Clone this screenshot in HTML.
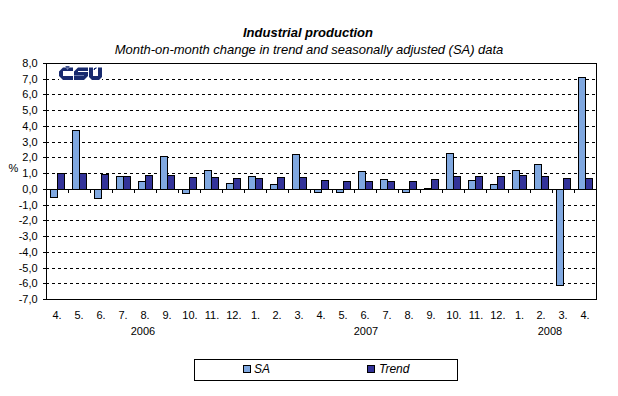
<!DOCTYPE html>
<html><head><meta charset="utf-8"><style>
html,body{margin:0;padding:0;background:#fff;width:618px;height:396px;overflow:hidden}
svg{display:block}
text{font-family:"Liberation Sans",sans-serif;fill:#000}
</style></head><body>
<svg width="618" height="396" viewBox="0 0 618 396">
<rect x="0" y="0" width="618" height="396" fill="#fff"/>

<text x="308" y="37" font-size="13" font-weight="bold" font-style="italic" text-anchor="middle">Industrial production</text>
<text x="309" y="53.5" font-size="13" font-style="italic" text-anchor="middle" letter-spacing="-0.025">Month-on-month change in trend and seasonally adjusted (SA) data</text>
<path d="M47 79.5H596 M47 94.5H596 M47 110.5H596 M47 126.5H596 M47 142.5H596 M47 157.5H596 M47 173.5H596 M47 205.5H596 M47 220.5H596 M47 236.5H596 M47 252.5H596 M47 268.5H596 M47 283.5H596" stroke="#000" stroke-width="1" stroke-dasharray="3 3" stroke-dashoffset="1" fill="none" shape-rendering="crispEdges"/>
<rect x="50.5" y="189.5" width="7" height="8" fill="#80A8E0" stroke="#000" stroke-width="1" shape-rendering="crispEdges"/>
<rect x="57.5" y="173.5" width="7" height="16" fill="#333399" stroke="#000" stroke-width="1" shape-rendering="crispEdges"/>
<rect x="72.5" y="130.5" width="7" height="59" fill="#80A8E0" stroke="#000" stroke-width="1" shape-rendering="crispEdges"/>
<rect x="79.5" y="173.5" width="7" height="16" fill="#333399" stroke="#000" stroke-width="1" shape-rendering="crispEdges"/>
<rect x="94.5" y="189.5" width="7" height="9" fill="#80A8E0" stroke="#000" stroke-width="1" shape-rendering="crispEdges"/>
<rect x="101.5" y="174.5" width="7" height="15" fill="#333399" stroke="#000" stroke-width="1" shape-rendering="crispEdges"/>
<rect x="116.5" y="176.5" width="7" height="13" fill="#80A8E0" stroke="#000" stroke-width="1" shape-rendering="crispEdges"/>
<rect x="123.5" y="176.5" width="7" height="13" fill="#333399" stroke="#000" stroke-width="1" shape-rendering="crispEdges"/>
<rect x="138.5" y="181.5" width="7" height="8" fill="#80A8E0" stroke="#000" stroke-width="1" shape-rendering="crispEdges"/>
<rect x="145.5" y="175.5" width="7" height="14" fill="#333399" stroke="#000" stroke-width="1" shape-rendering="crispEdges"/>
<rect x="160.5" y="156.5" width="7" height="33" fill="#80A8E0" stroke="#000" stroke-width="1" shape-rendering="crispEdges"/>
<rect x="167.5" y="175.5" width="7" height="14" fill="#333399" stroke="#000" stroke-width="1" shape-rendering="crispEdges"/>
<rect x="182.5" y="189.5" width="7" height="4" fill="#80A8E0" stroke="#000" stroke-width="1" shape-rendering="crispEdges"/>
<rect x="189.5" y="177.5" width="7" height="12" fill="#333399" stroke="#000" stroke-width="1" shape-rendering="crispEdges"/>
<rect x="204.5" y="170.5" width="7" height="19" fill="#80A8E0" stroke="#000" stroke-width="1" shape-rendering="crispEdges"/>
<rect x="211.5" y="177.5" width="7" height="12" fill="#333399" stroke="#000" stroke-width="1" shape-rendering="crispEdges"/>
<rect x="226.5" y="183.5" width="7" height="6" fill="#80A8E0" stroke="#000" stroke-width="1" shape-rendering="crispEdges"/>
<rect x="233.5" y="178.5" width="7" height="11" fill="#333399" stroke="#000" stroke-width="1" shape-rendering="crispEdges"/>
<rect x="248.5" y="176.5" width="7" height="13" fill="#80A8E0" stroke="#000" stroke-width="1" shape-rendering="crispEdges"/>
<rect x="255.5" y="178.5" width="7" height="11" fill="#333399" stroke="#000" stroke-width="1" shape-rendering="crispEdges"/>
<rect x="270.5" y="184.5" width="7" height="5" fill="#80A8E0" stroke="#000" stroke-width="1" shape-rendering="crispEdges"/>
<rect x="277.5" y="177.5" width="7" height="12" fill="#333399" stroke="#000" stroke-width="1" shape-rendering="crispEdges"/>
<rect x="292.5" y="154.5" width="7" height="35" fill="#80A8E0" stroke="#000" stroke-width="1" shape-rendering="crispEdges"/>
<rect x="299.5" y="177.5" width="7" height="12" fill="#333399" stroke="#000" stroke-width="1" shape-rendering="crispEdges"/>
<rect x="314.5" y="189.5" width="7" height="3" fill="#80A8E0" stroke="#000" stroke-width="1" shape-rendering="crispEdges"/>
<rect x="321.5" y="180.5" width="7" height="9" fill="#333399" stroke="#000" stroke-width="1" shape-rendering="crispEdges"/>
<rect x="336.5" y="189.5" width="7" height="3" fill="#80A8E0" stroke="#000" stroke-width="1" shape-rendering="crispEdges"/>
<rect x="343.5" y="181.5" width="7" height="8" fill="#333399" stroke="#000" stroke-width="1" shape-rendering="crispEdges"/>
<rect x="358.5" y="171.5" width="7" height="18" fill="#80A8E0" stroke="#000" stroke-width="1" shape-rendering="crispEdges"/>
<rect x="365.5" y="181.5" width="7" height="8" fill="#333399" stroke="#000" stroke-width="1" shape-rendering="crispEdges"/>
<rect x="380.5" y="179.5" width="7" height="10" fill="#80A8E0" stroke="#000" stroke-width="1" shape-rendering="crispEdges"/>
<rect x="387.5" y="181.5" width="7" height="8" fill="#333399" stroke="#000" stroke-width="1" shape-rendering="crispEdges"/>
<rect x="402.5" y="189.5" width="7" height="3" fill="#80A8E0" stroke="#000" stroke-width="1" shape-rendering="crispEdges"/>
<rect x="409.5" y="181.5" width="7" height="8" fill="#333399" stroke="#000" stroke-width="1" shape-rendering="crispEdges"/>
<rect x="424.5" y="188.5" width="7" height="1" fill="#80A8E0" stroke="#000" stroke-width="1" shape-rendering="crispEdges"/>
<rect x="431.5" y="179.5" width="7" height="10" fill="#333399" stroke="#000" stroke-width="1" shape-rendering="crispEdges"/>
<rect x="446.5" y="153.5" width="7" height="36" fill="#80A8E0" stroke="#000" stroke-width="1" shape-rendering="crispEdges"/>
<rect x="453.5" y="176.5" width="7" height="13" fill="#333399" stroke="#000" stroke-width="1" shape-rendering="crispEdges"/>
<rect x="468.5" y="180.5" width="7" height="9" fill="#80A8E0" stroke="#000" stroke-width="1" shape-rendering="crispEdges"/>
<rect x="475.5" y="176.5" width="7" height="13" fill="#333399" stroke="#000" stroke-width="1" shape-rendering="crispEdges"/>
<rect x="490.5" y="184.5" width="7" height="5" fill="#80A8E0" stroke="#000" stroke-width="1" shape-rendering="crispEdges"/>
<rect x="497.5" y="176.5" width="7" height="13" fill="#333399" stroke="#000" stroke-width="1" shape-rendering="crispEdges"/>
<rect x="512.5" y="170.5" width="7" height="19" fill="#80A8E0" stroke="#000" stroke-width="1" shape-rendering="crispEdges"/>
<rect x="519.5" y="175.5" width="7" height="14" fill="#333399" stroke="#000" stroke-width="1" shape-rendering="crispEdges"/>
<rect x="534.5" y="164.5" width="7" height="25" fill="#80A8E0" stroke="#000" stroke-width="1" shape-rendering="crispEdges"/>
<rect x="541.5" y="176.5" width="7" height="13" fill="#333399" stroke="#000" stroke-width="1" shape-rendering="crispEdges"/>
<rect x="556.5" y="189.5" width="7" height="96" fill="#80A8E0" stroke="#000" stroke-width="1" shape-rendering="crispEdges"/>
<rect x="563.5" y="178.5" width="7" height="11" fill="#333399" stroke="#000" stroke-width="1" shape-rendering="crispEdges"/>
<rect x="578.5" y="77.5" width="7" height="112" fill="#80A8E0" stroke="#000" stroke-width="1" shape-rendering="crispEdges"/>
<rect x="585.5" y="178.5" width="7" height="11" fill="#333399" stroke="#000" stroke-width="1" shape-rendering="crispEdges"/>
<path d="M46.5 63V300 M46 63.5H597 M596.5 63V300 M46 299.5H597 M46 189.5H597 M43 63.5H46 M43 79.5H46 M43 94.5H46 M43 110.5H46 M43 126.5H46 M43 142.5H46 M43 157.5H46 M43 173.5H46 M43 189.5H46 M43 205.5H46 M43 220.5H46 M43 236.5H46 M43 252.5H46 M43 268.5H46 M43 283.5H46 M43 299.5H46 M68.5 190V193 M90.5 190V193 M112.5 190V193 M134.5 190V193 M156.5 190V193 M178.5 190V193 M200.5 190V193 M222.5 190V193 M244.5 190V193 M266.5 190V193 M288.5 190V193 M310.5 190V193 M332.5 190V193 M354.5 190V193 M376.5 190V193 M398.5 190V193 M420.5 190V193 M442.5 190V193 M464.5 190V193 M486.5 190V193 M508.5 190V193 M530.5 190V193 M552.5 190V193 M574.5 190V193" stroke="#000" stroke-width="1" fill="none" shape-rendering="crispEdges"/>
<text x="37.6" y="67" font-size="11" text-anchor="end">8,0</text>
<text x="37.6" y="83" font-size="11" text-anchor="end">7,0</text>
<text x="37.6" y="98" font-size="11" text-anchor="end">6,0</text>
<text x="37.6" y="114" font-size="11" text-anchor="end">5,0</text>
<text x="37.6" y="130" font-size="11" text-anchor="end">4,0</text>
<text x="37.6" y="146" font-size="11" text-anchor="end">3,0</text>
<text x="37.6" y="161" font-size="11" text-anchor="end">2,0</text>
<text x="37.6" y="177" font-size="11" text-anchor="end">1,0</text>
<text x="37.6" y="193" font-size="11" text-anchor="end">0,0</text>
<text x="37.6" y="209" font-size="11" text-anchor="end">-1,0</text>
<text x="37.6" y="224" font-size="11" text-anchor="end">-2,0</text>
<text x="37.6" y="240" font-size="11" text-anchor="end">-3,0</text>
<text x="37.6" y="256" font-size="11" text-anchor="end">-4,0</text>
<text x="37.6" y="272" font-size="11" text-anchor="end">-5,0</text>
<text x="37.6" y="287" font-size="11" text-anchor="end">-6,0</text>
<text x="37.6" y="303" font-size="11" text-anchor="end">-7,0</text>
<text x="8.5" y="172" font-size="11">%</text>
<text x="57.0" y="319" font-size="11" text-anchor="middle">4.</text>
<text x="79.0" y="319" font-size="11" text-anchor="middle">5.</text>
<text x="101.0" y="319" font-size="11" text-anchor="middle">6.</text>
<text x="123.0" y="319" font-size="11" text-anchor="middle">7.</text>
<text x="145.0" y="319" font-size="11" text-anchor="middle">8.</text>
<text x="167.0" y="319" font-size="11" text-anchor="middle">9.</text>
<text x="190.0" y="319" font-size="11" text-anchor="middle">10.</text>
<text x="212.0" y="319" font-size="11" text-anchor="middle">11.</text>
<text x="233.8" y="319" font-size="11" text-anchor="middle">12.</text>
<text x="255.5" y="319" font-size="11" text-anchor="middle">1.</text>
<text x="277.0" y="319" font-size="11" text-anchor="middle">2.</text>
<text x="299.0" y="319" font-size="11" text-anchor="middle">3.</text>
<text x="321.0" y="319" font-size="11" text-anchor="middle">4.</text>
<text x="343.0" y="319" font-size="11" text-anchor="middle">5.</text>
<text x="365.0" y="319" font-size="11" text-anchor="middle">6.</text>
<text x="387.0" y="319" font-size="11" text-anchor="middle">7.</text>
<text x="409.0" y="319" font-size="11" text-anchor="middle">8.</text>
<text x="431.0" y="319" font-size="11" text-anchor="middle">9.</text>
<text x="454.0" y="319" font-size="11" text-anchor="middle">10.</text>
<text x="476.0" y="319" font-size="11" text-anchor="middle">11.</text>
<text x="497.8" y="319" font-size="11" text-anchor="middle">12.</text>
<text x="519.5" y="319" font-size="11" text-anchor="middle">1.</text>
<text x="541.0" y="319" font-size="11" text-anchor="middle">2.</text>
<text x="563.0" y="319" font-size="11" text-anchor="middle">3.</text>
<text x="585.0" y="319" font-size="11" text-anchor="middle">4.</text>
<text x="143" y="335" font-size="11" text-anchor="middle">2006</text>
<text x="366" y="335" font-size="11" text-anchor="middle">2007</text>
<text x="550" y="335" font-size="11" text-anchor="middle">2008</text>
<rect x="194.5" y="359.5" width="263" height="21" fill="#fff" stroke="#000" stroke-width="1" shape-rendering="crispEdges"/>
<rect x="243.5" y="365.5" width="7" height="7" fill="#80A8E0" stroke="#000" stroke-width="1" shape-rendering="crispEdges"/>
<text x="254" y="373" font-size="12" font-style="italic">SA</text>
<rect x="367.5" y="365.5" width="7" height="7" fill="#333399" stroke="#000" stroke-width="1" shape-rendering="crispEdges"/>
<text x="379" y="373" font-size="12" font-style="italic">Trend</text>
<rect x="59" y="66" width="43" height="14" fill="#fff"/>
<g fill="#182a6e">
<path d="M63 67.4H73V71H63V76H73V80H63L59 76V71.4Z"/>
<rect x="65" y="66" width="5" height="1" fill="#a8b2cf"/>
<rect x="66" y="66.3" width="3" height="1.2"/>
<path d="M66 68H69L67.5 70Z" fill="#7886b8"/>
<path d="M78 67.4H88V71H78V72H88V76L84 80H74V76H84V75H74V71.4Z"/>
<rect x="74" y="75" width="10" height="1" fill="#6a7aac"/>
<path d="M89 67.4H93V76H98V67.4H102V77L99 80H92L89 77Z"/>
<rect x="94" y="68" width="2" height="1"/><rect x="94" y="69" width="1" height="1"/>
<rect x="95" y="67.3" width="2" height="0.7" fill="#8090c0"/><rect x="96" y="68" width="1" height="1" fill="#b0bada"/><rect x="93" y="69" width="1" height="1" fill="#b0bada"/>
</g>
</svg></body></html>
